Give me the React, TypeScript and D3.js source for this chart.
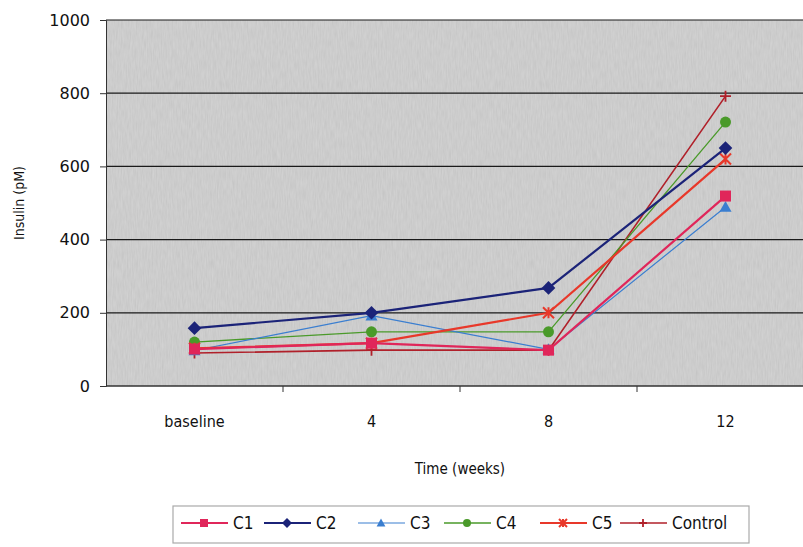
import { useEffect, useRef } from "react";
import * as d3 from "d3";

// categorías del eje X
const categories = ["baseline", "4", "8", "12"];
const yTicks = [0, 200, 400, 600, 800, 1000];

// series (insulina pM)
const seriesNames = ["C1", "C2", "C3", "C4", "C5", "Control"];
const c1 = [101, 117, 98, 519];
const c2 = [158, 200, 268, 650];
const c3 = [97, 192, 100, 489];
const c4 = [120, 148, 148, 721];
const c5 = [103, 117, 200, 620];
const control = [90, 98, 98, 792];

const colors = ["#e0265a", "#1b2378", "#3a7ed0", "#4a9a2a", "#e8382a", "#b0202a"];
const widths = [2.2, 2.2, 1.2, 1.3, 2.2, 1.6];
const markers = ["square", "diamond", "triangle", "circle", "star", "plus"];

export default function App() {
  const ref = useRef<SVGSVGElement>(null);

  useEffect(() => {
    if (!ref.current) return;
    const svg = d3.select(ref.current);
    svg.selectAll("*").remove();

    const W = 803;
    const H = 547;
    const left = 106;
    const top = 20;
    const bottom = 386;
    const right = 814;

    const x = d3.scaleBand<string>().domain(categories).range([left, right]);
    const y = d3.scaleLinear().domain([0, 1000]).range([bottom, top]);

    svg.append("rect").attr("width", W).attr("height", H).attr("fill", "#ffffff");

    // textura gris del área del gráfico
    const defs = svg.append("defs");
    const f = defs.append("filter").attr("id", "noise").attr("x", 0).attr("y", 0).attr("width", 1).attr("height", 1);
    f.append("feTurbulence").attr("type", "fractalNoise").attr("baseFrequency", "0.8 0.1").attr("numOctaves", 2).attr("seed", 3).attr("result", "t");
    f.append("feColorMatrix").attr("in", "t").attr("type", "matrix")
      .attr("values", "0.5 0 0 0 0.5  0.5 0 0 0 0.5  0.5 0 0 0 0.5  0 0 0 0 1");

    svg.append("rect")
      .attr("x", left).attr("y", top)
      .attr("width", right - left).attr("height", bottom - top)
      .attr("fill", "#c6c6c6");
    svg.append("rect")
      .attr("x", left).attr("y", top)
      .attr("width", right - left).attr("height", bottom - top)
      .attr("fill", "#c6c6c6")
      .attr("filter", "url(#noise)")
      .attr("opacity", 0.25);

    // líneas de cuadrícula
    svg.append("g")
      .selectAll("line")
      .data(yTicks.filter((d) => d > 0))
      .enter()
      .append("line")
      .attr("x1", left).attr("x2", right)
      .attr("y1", (d) => y(d)).attr("y2", (d) => y(d))
      .attr("stroke", "#1a1a1a").attr("stroke-width", 1.2);

    // eje Y
    const yAxis = svg.append("g").attr("transform", `translate(${left},0)`)
      .call(d3.axisLeft(y).tickValues(yTicks).tickFormat(d3.format("d")).tickSize(6).tickPadding(10));
    yAxis.select(".domain").attr("stroke", "#333");
    yAxis.selectAll("line").attr("stroke", "#333");
    yAxis.selectAll("text")
      .attr("font-family", "DejaVu Sans, Verdana, sans-serif")
      .attr("font-size", 16)
      .attr("fill", "#111");

    // eje X
    const xAxis = svg.append("g").attr("transform", `translate(0,${bottom})`);
    xAxis.append("line").attr("x1", left).attr("x2", right).attr("stroke", "#333").attr("stroke-width", 1.5);
    xAxis.selectAll(".tk")
      .data(categories.slice(1))
      .enter()
      .append("line")
      .attr("x1", (d) => x(d) || 0).attr("x2", (d) => x(d) || 0)
      .attr("y1", 0).attr("y2", 6)
      .attr("stroke", "#333");
    xAxis.selectAll(".lbl")
      .data(categories)
      .enter()
      .append("text")
      .attr("x", (d) => (x(d) || 0) + x.bandwidth() / 2)
      .attr("y", 41)
      .attr("text-anchor", "middle")
      .attr("font-family", "DejaVu Sans Condensed, DejaVu Sans, sans-serif")
      .attr("font-size", 16)
      .attr("fill", "#111")
      .text((d) => d);

    // títulos de ejes
    svg.append("text")
      .attr("transform", `translate(24,${(top + bottom) / 2}) rotate(-90)`)
      .attr("text-anchor", "middle")
      .attr("font-family", "DejaVu Sans Condensed, DejaVu Sans, sans-serif")
      .attr("font-size", 14)
      .attr("fill", "#111")
      .text("Insulin (pM)");
    svg.append("text")
      .attr("x", 460).attr("y", 474)
      .attr("text-anchor", "middle")
      .attr("font-family", "DejaVu Sans Condensed, DejaVu Sans, sans-serif")
      .attr("font-size", 15)
      .attr("fill", "#111")
      .text("Time (weeks)");

    const allSeries = [c1, c2, c3, c4, c5, control];
    const cx = (i: number) => (x(categories[i]) || 0) + x.bandwidth() / 2;

    const drawMarker = (g: d3.Selection<SVGGElement, unknown, null, undefined>, kind: string, color: string, px: number, py: number, s: number) => {
      if (kind === "square") {
        g.append("rect").attr("x", px - s / 2).attr("y", py - s / 2).attr("width", s).attr("height", s).attr("fill", color);
      } else if (kind === "diamond") {
        const r = s * 0.62;
        g.append("path").attr("d", `M${px},${py - r}L${px + r},${py}L${px},${py + r}L${px - r},${py}Z`).attr("fill", color);
      } else if (kind === "triangle") {
        const r = s * 0.55;
        g.append("path").attr("d", `M${px},${py - r}L${px + r},${py + r * 0.8}L${px - r},${py + r * 0.8}Z`).attr("fill", color);
      } else if (kind === "circle") {
        g.append("circle").attr("cx", px).attr("cy", py).attr("r", s / 2).attr("fill", color);
      } else if (kind === "star") {
        const r = s / 2;
        g.append("path")
          .attr("d", `M${px - r},${py - r}L${px + r},${py + r}M${px - r},${py + r}L${px + r},${py - r}M${px},${py - r}L${px},${py + r}`)
          .attr("stroke", color).attr("stroke-width", 2).attr("fill", "none");
      } else {
        const r = s / 2;
        g.append("path")
          .attr("d", `M${px - r},${py}L${px + r},${py}M${px},${py - r}L${px},${py + r}`)
          .attr("stroke", color).attr("stroke-width", 1.8).attr("fill", "none");
      }
    };

    const line = d3.line<number>().x((_, i) => cx(i)).y((d) => y(d));
    // dibujar en orden inverso para que C1 quede encima
    const order = [5, 3, 2, 4, 1, 0];
    order.forEach((k) => {
      const g = svg.append("g");
      g.append("path")
        .datum(allSeries[k])
        .attr("d", line)
        .attr("fill", "none")
        .attr("stroke", colors[k])
        .attr("stroke-width", widths[k]);
      allSeries[k].forEach((v, i) => drawMarker(g, markers[k], colors[k], cx(i), y(v), 11));
    });

    // leyenda
    svg.append("rect")
      .attr("x", 173).attr("y", 506)
      .attr("width", 576).attr("height", 37)
      .attr("fill", "#fff").attr("stroke", "#aaa").attr("stroke-width", 1.2);
    const legX = [181, 264, 358, 444, 540, 620];
    const legY = 523;
    seriesNames.forEach((name, k) => {
      const g = svg.append("g");
      g.append("line")
        .attr("x1", legX[k]).attr("x2", legX[k] + 47)
        .attr("y1", legY).attr("y2", legY)
        .attr("stroke", colors[k]).attr("stroke-width", widths[k]);
      drawMarker(g, markers[k], colors[k], legX[k] + 23, legY, 8);
      g.append("text")
        .attr("x", legX[k] + 52).attr("y", legY + 6)
        .attr("font-family", "DejaVu Sans Condensed, DejaVu Sans, sans-serif")
        .attr("font-size", 17)
        .attr("fill", "#111")
        .text(name);
    });
  }, []);

  return (
    <svg
      ref={ref}
      width={803}
      height={547}
      style={{ position: "absolute", left: 0, top: 0, display: "block" }}
    />
  );
}
